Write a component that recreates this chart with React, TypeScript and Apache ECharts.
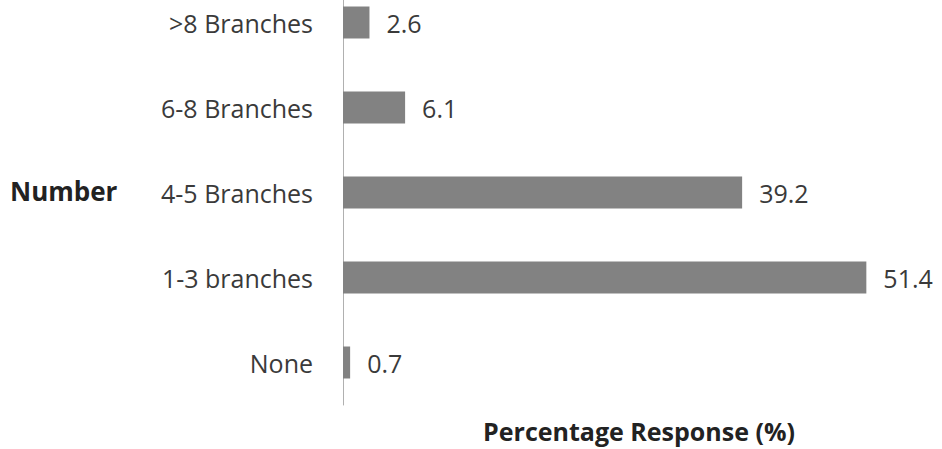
import React, { useEffect, useRef } from "react";
import * as echarts from "echarts";

const categories = ["None", "1-3 branches", "4-5 Branches", "6-8 Branches", ">8 Branches"];
const values = [0.7, 51.4, 39.2, 6.1, 2.6];
const yAxisTitle = "Number";
const xAxisTitle = "Percentage Response (%)";

const FONT = "'Open Sans', sans-serif";
const SHIFT = 20;

export default function App() {
  const ref = useRef<HTMLDivElement>(null);
  useEffect(() => {
    if (!ref.current) return;
    const chart = echarts.init(ref.current, undefined, { renderer: "svg" });
    chart.setOption({
      animation: false,
      backgroundColor: "#ffffff",
      grid: { left: 343, top: 0, bottom: 44, width: 560, containLabel: false },
      xAxis: {
        type: "value",
        min: 0,
        max: 55,
        show: false,
      },
      yAxis: {
        type: "category",
        data: categories,
        axisLine: { show: true, lineStyle: { color: "#b0b0b0", width: 1 } },
        axisTick: { show: false },
        axisLabel: {
          margin: 30,
          color: "#3a3a3a",
          fontFamily: FONT,
          fontSize: 25,
        },
        splitLine: { show: false },
      },
      series: [
        {
          type: "bar",
          data: values,
          barWidth: 32,
          itemStyle: { color: "#828282" },
          label: {
            show: true,
            position: "right",
            distance: 17,
            color: "#3a3a3a",
            fontFamily: FONT,
            fontSize: 25,
            formatter: (p: any) => p.value.toFixed(1),
          },
        },
      ],
      graphic: [
        {
          type: "text",
          left: 10,
          top: 178 + SHIFT,
          style: {
            text: yAxisTitle,
            font: `bold 26px ${FONT}`,
            fill: "#222222",
          },
        },
        {
          type: "text",
          x: 639,
          y: 431 + SHIFT,
          style: {
            text: xAxisTitle,
            font: `bold 25px ${FONT}`,
            fill: "#222222",
            textAlign: "center",
            textVerticalAlign: "middle",
          },
        },
      ],
    });
    return () => chart.dispose();
  }, []);
  return (
    <div
      ref={ref}
      style={{ position: "fixed", left: 0, top: -SHIFT, width: 942, height: 449 + SHIFT }}
    />
  );
}
